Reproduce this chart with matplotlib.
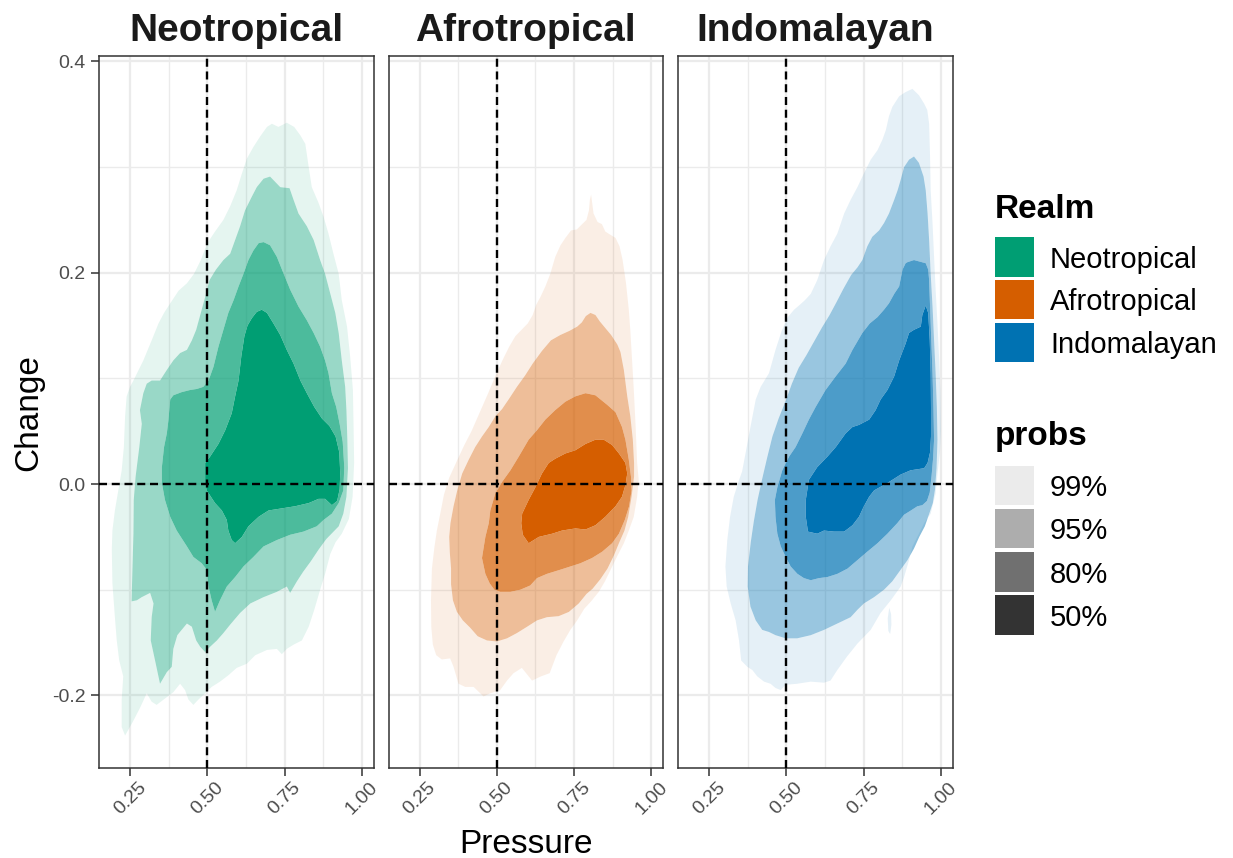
import numpy as np
import matplotlib
matplotlib.use("Agg")
import matplotlib.pyplot as plt
from matplotlib.path import Path
from matplotlib.patches import PathPatch, Rectangle
from matplotlib.ticker import FixedLocator

plt.rcParams['font.family'] = ['Liberation Sans', 'DejaVu Sans']

# ---------------------------------------------------------------------------
# Data: highest-density-region outlines (Pressure, Change) per realm
# ---------------------------------------------------------------------------
realms = ["Neotropical", "Afrotropical", "Indomalayan"]
realm_colors = ["#009E73", "#D55E00", "#0072B2"]
prob_labels = ["99%", "95%", "80%", "50%"]
prob_alphas = [0.1, 0.4, 0.7, 1.0]

x_ticks = [0.25, 0.50, 0.75, 1.00]
x_tick_labels = ["0.25", "0.50", "0.75", "1.00"]
y_ticks = [-0.2, 0.0, 0.2, 0.4]
y_tick_labels = ["-0.2", "0.0", "0.2", "0.4"]
ref_pressure = 0.5
ref_change = 0.0

neo_p99 = [(0.709,0.341),(0.730,0.338),(0.757,0.342),(0.781,0.338),(0.801,0.330),(0.817,0.322),
           (0.828,0.300),(0.838,0.281),(0.860,0.266),(0.876,0.253),(0.892,0.237),(0.908,0.218),
           (0.925,0.199),(0.935,0.174),(0.952,0.149),(0.962,0.121),(0.971,0.089),(0.973,0.057),
           (0.975,0.020),(0.970,-0.012),(0.958,-0.033),(0.935,-0.047),(0.915,-0.055),(0.898,-0.066),
           (0.881,-0.085),(0.865,-0.100),(0.846,-0.119),(0.828,-0.135),(0.806,-0.148),(0.779,-0.152),
           (0.757,-0.156),(0.741,-0.161),(0.725,-0.156),(0.693,-0.157),(0.655,-0.162),(0.628,-0.170),
           (0.595,-0.174),(0.568,-0.181),(0.541,-0.187),(0.514,-0.192),(0.493,-0.198),(0.471,-0.204),
           (0.455,-0.209),(0.439,-0.204),(0.428,-0.195),(0.412,-0.189),(0.390,-0.197),(0.363,-0.203),
           (0.336,-0.209),(0.320,-0.206),(0.304,-0.198),(0.282,-0.212),(0.259,-0.225),(0.234,-0.238),
           (0.223,-0.230),(0.223,-0.204),(0.228,-0.182),(0.215,-0.167),(0.207,-0.148),(0.201,-0.126),
           (0.193,-0.094),(0.191,-0.062),(0.193,-0.044),(0.201,-0.025),(0.212,-0.006),(0.223,0.013),
           (0.230,0.035),(0.234,0.064),(0.239,0.083),(0.250,0.092),(0.261,0.098),(0.293,0.117),
           (0.320,0.136),(0.342,0.152),(0.360,0.162),(0.380,0.171),(0.407,0.183),(0.434,0.190),
           (0.457,0.199),(0.479,0.212),(0.500,0.228),(0.525,0.239),(0.552,0.250),(0.574,0.263),
           (0.595,0.278),(0.612,0.294),(0.628,0.308),(0.649,0.319),(0.671,0.329),(0.693,0.338)]

neo_p95 = [(0.703,0.291),(0.736,0.281),(0.766,0.280),(0.779,0.269),(0.795,0.256),(0.822,0.244),
           (0.844,0.231),(0.865,0.212),(0.881,0.199),(0.898,0.180),(0.914,0.162),(0.925,0.143),
           (0.935,0.117),(0.946,0.092),(0.950,0.070),(0.953,0.042),(0.955,0.015),(0.950,-0.012),
           (0.940,-0.028),(0.925,-0.040),(0.905,-0.046),(0.885,-0.052),(0.860,-0.062),(0.835,-0.073),
           (0.810,-0.083),(0.790,-0.092),(0.768,-0.103),(0.757,-0.097),(0.725,-0.102),(0.682,-0.107),
           (0.639,-0.113),(0.606,-0.122),(0.574,-0.133),(0.552,-0.141),(0.531,-0.148),(0.509,-0.154),
           (0.493,-0.159),(0.477,-0.154),(0.464,-0.148),(0.450,-0.135),(0.434,-0.132),(0.417,-0.138),
           (0.403,-0.143),(0.390,-0.156),(0.385,-0.173),(0.369,-0.178),(0.347,-0.189),(0.331,-0.167),
           (0.317,-0.148),(0.320,-0.126),(0.326,-0.113),(0.315,-0.103),(0.288,-0.107),(0.272,-0.110),
           (0.255,-0.111),(0.258,-0.078),(0.261,-0.047),(0.262,-0.015),(0.268,0.007),(0.280,0.035),
           (0.288,0.057),(0.282,0.070),(0.293,0.086),(0.304,0.095),(0.320,0.098),(0.347,0.098),
           (0.369,0.108),(0.390,0.117),(0.412,0.124),(0.434,0.127),(0.450,0.136),(0.464,0.146),
           (0.479,0.162),(0.493,0.177),(0.507,0.193),(0.528,0.203),(0.552,0.212),(0.574,0.218),
           (0.590,0.231),(0.606,0.244),(0.622,0.259),(0.644,0.272),(0.660,0.281),(0.682,0.289)]

neo_p80 = [(0.682,0.229),(0.703,0.226),(0.725,0.215),(0.747,0.199),(0.768,0.184),(0.795,0.168),
           (0.822,0.155),(0.844,0.143),(0.865,0.130),(0.881,0.117),(0.892,0.105),(0.903,0.086),
           (0.917,0.073),(0.928,0.057),(0.938,0.040),(0.943,0.016),(0.940,-0.006),(0.925,-0.018),
           (0.903,-0.028),(0.876,-0.034),(0.854,-0.040),(0.811,-0.045),(0.768,-0.048),(0.725,-0.053),
           (0.682,-0.059),(0.649,-0.069),(0.617,-0.078),(0.590,-0.088),(0.563,-0.097),(0.541,-0.110),
           (0.525,-0.121),(0.514,-0.110),(0.504,-0.097),(0.498,-0.081),(0.482,-0.075),(0.455,-0.069),
           (0.434,-0.059),(0.401,-0.044),(0.380,-0.031),(0.363,-0.015),(0.353,0.001),(0.353,0.016),
           (0.360,0.035),(0.369,0.048),(0.374,0.060),(0.380,0.080),(0.390,0.084),(0.417,0.087),
           (0.444,0.089),(0.466,0.090),(0.487,0.092),(0.504,0.098),(0.520,0.111),(0.536,0.130),
           (0.552,0.146),(0.568,0.162),(0.585,0.174),(0.601,0.187),(0.617,0.199),(0.633,0.212),
           (0.649,0.221),(0.666,0.228)]

neo_p50 = [(0.676,0.165),(0.693,0.162),(0.714,0.152),(0.736,0.141),(0.757,0.127),(0.779,0.114),
           (0.801,0.098),(0.822,0.086),(0.846,0.073),(0.871,0.062),(0.895,0.055),(0.915,0.045),
           (0.927,0.030),(0.930,0.010),(0.928,-0.005),(0.920,-0.016),(0.903,-0.020),(0.881,-0.014),
           (0.860,-0.014),(0.828,-0.018),(0.784,-0.021),(0.741,-0.023),(0.698,-0.025),(0.666,-0.031),
           (0.633,-0.040),(0.612,-0.050),(0.590,-0.056),(0.579,-0.053),(0.568,-0.044),(0.563,-0.034),
           (0.547,-0.025),(0.525,-0.018),(0.498,-0.006),(0.493,0.001),(0.493,0.020),(0.509,0.026),
           (0.536,0.038),(0.558,0.051),(0.579,0.067),(0.590,0.083),(0.601,0.098),(0.610,0.121),
           (0.620,0.140),(0.630,0.150),(0.644,0.157),(0.660,0.163)]

afro_p99 = [(0.805,0.274),(0.813,0.256),(0.826,0.248),(0.840,0.246),(0.851,0.239),(0.867,0.236),
            (0.884,0.233),(0.897,0.225),(0.907,0.212),(0.918,0.190),(0.927,0.165),(0.932,0.145),
            (0.937,0.120),(0.943,0.090),(0.949,0.055),(0.954,0.020),(0.959,0.004),(0.954,-0.012),
            (0.943,-0.031),(0.927,-0.044),(0.911,-0.056),(0.890,-0.068),(0.870,-0.080),(0.850,-0.092),
            (0.830,-0.102),(0.805,-0.111),(0.783,-0.118),(0.760,-0.129),(0.738,-0.138),(0.716,-0.149),
            (0.693,-0.162),(0.671,-0.179),(0.643,-0.182),(0.614,-0.186),(0.581,-0.174),(0.554,-0.179),
            (0.533,-0.186),(0.511,-0.195),(0.479,-0.198),(0.457,-0.201),(0.425,-0.192),(0.398,-0.192),
            (0.376,-0.189),(0.360,-0.173),(0.349,-0.165),(0.322,-0.166),(0.304,-0.162),(0.293,-0.152),
            (0.288,-0.135),(0.287,-0.110),(0.290,-0.080),(0.298,-0.060),(0.306,-0.044),(0.317,-0.028),
            (0.329,-0.010),(0.346,0.006),(0.371,0.022),(0.395,0.037),(0.418,0.050),(0.445,0.068),
            (0.472,0.086),(0.495,0.102),(0.518,0.117),(0.540,0.130),(0.560,0.140),(0.580,0.146),
            (0.600,0.152),(0.616,0.160),(0.628,0.170),(0.641,0.177),(0.657,0.187),(0.673,0.199),
            (0.689,0.215),(0.706,0.226),(0.722,0.233),(0.740,0.240),(0.759,0.241),(0.776,0.246),
            (0.790,0.250),(0.798,0.259),(0.801,0.269)]

afro_p95 = [(0.803,0.162),(0.819,0.160),(0.833,0.154),(0.850,0.148),(0.870,0.141),(0.890,0.132),
            (0.900,0.125),(0.911,0.108),(0.922,0.083),(0.932,0.064),(0.940,0.042),(0.944,0.020),
            (0.944,0.007),(0.936,-0.012),(0.925,-0.031),(0.913,-0.044),(0.895,-0.056),(0.878,-0.068),
            (0.858,-0.080),(0.835,-0.090),(0.810,-0.099),(0.790,-0.104),(0.765,-0.113),(0.733,-0.121),
            (0.700,-0.125),(0.662,-0.126),(0.630,-0.129),(0.598,-0.135),(0.565,-0.141),(0.533,-0.146),
            (0.500,-0.149),(0.468,-0.148),(0.438,-0.144),(0.414,-0.136),(0.390,-0.129),(0.371,-0.121),
            (0.358,-0.110),(0.352,-0.095),(0.352,-0.080),(0.348,-0.065),(0.346,-0.050),(0.350,-0.037),
            (0.360,-0.021),(0.372,-0.006),(0.388,0.010),(0.409,0.023),(0.430,0.035),(0.452,0.045),
            (0.474,0.054),(0.495,0.064),(0.517,0.071),(0.538,0.080),(0.565,0.092),(0.592,0.103),
            (0.616,0.114),(0.646,0.126),(0.675,0.136),(0.705,0.141),(0.735,0.145),(0.760,0.149),
            (0.775,0.153),(0.788,0.159)]

afro_p80 = [(0.787,0.086),(0.819,0.084),(0.857,0.075),(0.884,0.068),(0.905,0.054),(0.916,0.042),
            (0.927,0.023),(0.934,0.007),(0.936,-0.006),(0.928,-0.021),(0.914,-0.034),(0.895,-0.047),
            (0.873,-0.056),(0.841,-0.064),(0.808,-0.070),(0.770,-0.075),(0.738,-0.078),(0.706,-0.081),
            (0.662,-0.085),(0.630,-0.089),(0.608,-0.096),(0.576,-0.100),(0.544,-0.102),(0.511,-0.102),
            (0.492,-0.100),(0.477,-0.094),(0.463,-0.085),(0.452,-0.070),(0.463,-0.050),(0.474,-0.037),
            (0.479,-0.025),(0.495,-0.009),(0.517,0.002),(0.544,0.013),(0.571,0.026),(0.603,0.042),
            (0.630,0.051),(0.657,0.061),(0.689,0.070),(0.722,0.078),(0.754,0.083)]

afro_p50 = [(0.819,0.042),(0.846,0.042),(0.873,0.037),(0.895,0.029),(0.916,0.020),(0.922,0.010),
            (0.916,-0.001),(0.905,-0.012),(0.884,-0.021),(0.851,-0.031),(0.819,-0.039),(0.787,-0.043),
            (0.754,-0.042),(0.711,-0.044),(0.679,-0.047),(0.636,-0.050),(0.603,-0.056),(0.584,-0.048),
            (0.579,-0.037),(0.582,-0.028),(0.603,-0.015),(0.625,-0.003),(0.646,0.010),(0.668,0.020),
            (0.689,0.024),(0.722,0.029),(0.754,0.032),(0.787,0.038)]

indo_p99 = [(0.908,0.374),(0.929,0.368),(0.946,0.360),(0.956,0.354),(0.962,0.341),(0.965,0.310),
            (0.967,0.278),(0.973,0.247),(0.978,0.215),(0.983,0.184),(0.989,0.152),(0.994,0.121),
            (0.998,0.089),(1.000,0.050),(0.997,0.030),(0.989,0.010),(0.983,-0.009),(0.967,-0.028),
            (0.946,-0.037),(0.924,-0.050),(0.908,-0.059),(0.897,-0.072),(0.881,-0.088),(0.870,-0.097),
            (0.838,-0.110),(0.805,-0.122),(0.773,-0.138),(0.730,-0.151),(0.697,-0.163),(0.665,-0.176),
            (0.643,-0.186),(0.622,-0.188),(0.579,-0.187),(0.535,-0.189),(0.498,-0.190),(0.482,-0.195),
            (0.465,-0.193),(0.449,-0.189),(0.428,-0.187),(0.406,-0.182),(0.390,-0.176),(0.374,-0.173),
            (0.354,-0.167),(0.347,-0.148),(0.336,-0.129),(0.320,-0.113),(0.307,-0.097),(0.303,-0.078),
            (0.309,-0.053),(0.318,-0.031),(0.330,-0.012),(0.345,0.002),(0.357,0.012),(0.368,0.029),
            (0.384,0.054),(0.401,0.080),(0.417,0.092),(0.444,0.105),(0.465,0.127),(0.485,0.145),
            (0.505,0.158),(0.525,0.165),(0.545,0.170),(0.560,0.174),(0.579,0.180),(0.600,0.193),
            (0.622,0.212),(0.643,0.225),(0.665,0.237),(0.687,0.256),(0.708,0.269),(0.730,0.281),
            (0.751,0.294),(0.773,0.307),(0.795,0.316),(0.811,0.326),(0.822,0.335),(0.832,0.348),
            (0.843,0.357),(0.865,0.367),(0.886,0.371)]

# detached 99% fragment below the main Indomalayan body
indo_p99_islet = [(0.833,-0.117),(0.839,-0.123),(0.840,-0.133),(0.836,-0.142),
                  (0.830,-0.139),(0.828,-0.127)]

indo_p95 = [(0.913,0.310),(0.929,0.304),(0.944,0.291),(0.951,0.278),(0.957,0.256),(0.962,0.231),
            (0.967,0.199),(0.973,0.168),(0.978,0.136),(0.983,0.105),(0.987,0.073),(0.989,0.042),
            (0.986,0.015),(0.981,-0.005),(0.974,-0.018),(0.960,-0.030),(0.948,-0.040),(0.930,-0.050),
            (0.913,-0.061),(0.892,-0.072),(0.870,-0.081),(0.843,-0.092),(0.816,-0.100),(0.784,-0.107),
            (0.751,-0.113),(0.730,-0.119),(0.708,-0.126),(0.665,-0.132),(0.622,-0.138),(0.579,-0.143),
            (0.535,-0.146),(0.498,-0.146),(0.465,-0.143),(0.444,-0.140),(0.422,-0.138),(0.401,-0.129),
            (0.384,-0.116),(0.375,-0.097),(0.376,-0.078),(0.385,-0.055),(0.395,-0.035),(0.407,-0.015),
            (0.422,0.005),(0.438,0.025),(0.455,0.045),(0.475,0.062),(0.497,0.078),(0.518,0.095),
            (0.540,0.110),(0.565,0.122),(0.590,0.135),(0.615,0.148),(0.640,0.160),(0.662,0.172),
            (0.685,0.185),(0.710,0.198),(0.730,0.205),(0.746,0.212),(0.762,0.225),(0.778,0.234),
            (0.800,0.240),(0.816,0.247),(0.832,0.256),(0.849,0.269),(0.860,0.278),(0.870,0.288),
            (0.881,0.300),(0.897,0.307)]

indo_p80 = [(0.892,0.210),(0.913,0.212),(0.951,0.209),(0.959,0.203),(0.962,0.193),(0.965,0.168),
            (0.969,0.136),(0.973,0.105),(0.976,0.073),(0.978,0.042),(0.975,0.025),(0.970,0.008),
            (0.964,-0.008),(0.955,-0.016),(0.940,-0.020),(0.924,-0.021),(0.903,-0.025),(0.881,-0.029),
            (0.859,-0.037),(0.827,-0.047),(0.795,-0.056),(0.762,-0.064),(0.730,-0.072),(0.698,-0.080),
            (0.665,-0.085),(0.633,-0.088),(0.606,-0.089),(0.579,-0.091),(0.557,-0.089),(0.536,-0.085),
            (0.514,-0.078),(0.498,-0.069),(0.482,-0.059),(0.471,-0.047),(0.465,-0.031),(0.463,-0.015),
            (0.471,-0.003),(0.487,0.013),(0.509,0.026),(0.530,0.035),(0.552,0.048),(0.573,0.061),
            (0.595,0.073),(0.627,0.089),(0.660,0.102),(0.692,0.114),(0.714,0.127),(0.746,0.143),
            (0.770,0.152),(0.795,0.158),(0.816,0.165),(0.832,0.171),(0.849,0.180),(0.865,0.187),
            (0.876,0.203),(0.886,0.209)]

indo_p50 = [(0.951,0.169),(0.959,0.162),(0.964,0.136),(0.967,0.105),(0.968,0.073),(0.968,0.045),
            (0.965,0.030),(0.957,0.020),(0.946,0.015),(0.902,0.013),(0.870,0.009),(0.827,0.001),
            (0.784,-0.006),(0.768,-0.012),(0.751,-0.021),(0.735,-0.031),(0.714,-0.039),(0.687,-0.045),
            (0.654,-0.045),(0.622,-0.044),(0.600,-0.047),(0.570,-0.045),(0.563,-0.031),(0.563,-0.015),
            (0.573,0.004),(0.600,0.016),(0.633,0.026),(0.660,0.035),(0.692,0.048),(0.714,0.054),
            (0.735,0.056),(0.768,0.061),(0.789,0.070),(0.805,0.080),(0.827,0.089),(0.849,0.102),
            (0.865,0.117),(0.886,0.133),(0.897,0.143),(0.913,0.146),(0.935,0.149),(0.940,0.160)]

regions = {
    "Neotropical": [neo_p99, neo_p95, neo_p80, neo_p50],
    "Afrotropical": [afro_p99, afro_p95, afro_p80, afro_p50],
    "Indomalayan": [indo_p99, indo_p95, indo_p80, indo_p50],
}
# extra disconnected pieces: (realm, level index, outline)
fragments = [("Indomalayan", 0, indo_p99_islet)]


# ---------------------------------------------------------------------------
# Helpers: each probability band is the region inside one HDR outline and
# outside the next (inner) one, so the alpha levels never stack.
# ---------------------------------------------------------------------------
def oriented(points, ccw=True):
    arr = np.asarray(points, dtype=float)
    x, y = arr[:, 0], arr[:, 1]
    area = 0.5 * np.sum(x * np.roll(y, -1) - np.roll(x, -1) * y)
    if (area > 0) != ccw:
        arr = arr[::-1]
    return arr


def band_path(outer, inner=None):
    rings = [oriented(outer, True)]
    if inner is not None:
        rings.append(oriented(inner, False))
    verts, codes = [], []
    for r in rings:
        verts.extend(r.tolist())
        verts.append(r[0].tolist())
        codes.extend([Path.MOVETO] + [Path.LINETO] * (len(r) - 1) + [Path.CLOSEPOLY])
    return Path(verts, codes)


# ---------------------------------------------------------------------------
# Figure
# ---------------------------------------------------------------------------
W, H = 1233, 858
fig = plt.figure(figsize=(W / 100, H / 100), dpi=100)
fig.patch.set_facecolor("white")

panel_left_px = [99, 388.5, 678]
panel_w_px = 274.5
panel_top_px, panel_bot_px = 55.7, 768.3

xlim = (0.1496, 1.0376)
ylim = (-0.269, 0.4054)

text_dark = "#1A1A1A"
tick_grey = "#4D4D4D"
frame_grey = "#333333"
grid_grey = "#EBEBEB"
dash_style = (0, (3.4, 2.0))

for i, (realm, color) in enumerate(zip(realms, realm_colors)):
    ax = fig.add_axes([panel_left_px[i] / W, 1 - panel_bot_px / H,
                       panel_w_px / W, (panel_bot_px - panel_top_px) / H])
    ax.set_xlim(*xlim)
    ax.set_ylim(*ylim)
    ax.set_facecolor("white")

    # grid (major + minor)
    ax.xaxis.set_major_locator(FixedLocator(x_ticks))
    ax.yaxis.set_major_locator(FixedLocator(y_ticks))
    ax.xaxis.set_minor_locator(FixedLocator([0.375, 0.625, 0.875]))
    ax.yaxis.set_minor_locator(FixedLocator([-0.1, 0.1, 0.3]))
    ax.grid(which="major", color=grid_grey, lw=1.6, zorder=0)
    ax.grid(which="minor", color=grid_grey, lw=1.0, zorder=0)
    ax.tick_params(which="minor", length=0)
    ax.set_axisbelow(True)

    # density bands
    levels = regions[realm]
    for k, outline in enumerate(levels):
        inner = levels[k + 1] if k + 1 < len(levels) else None
        patch = PathPatch(band_path(outline, inner), facecolor=color,
                          alpha=prob_alphas[k], edgecolor="none", zorder=1 + k * 0.01)
        ax.add_patch(patch)
    for f_realm, k, outline in fragments:
        if f_realm == realm:
            ax.add_patch(PathPatch(band_path(outline), facecolor=color,
                                   alpha=prob_alphas[k], edgecolor="none", zorder=1))

    # reference lines
    ax.axvline(ref_pressure, color="black", lw=1.7, ls=dash_style, zorder=3)
    ax.axhline(ref_change, color="black", lw=1.7, ls=dash_style, zorder=3)

    # frame & ticks
    for sp in ax.spines.values():
        sp.set_color(frame_grey)
        sp.set_linewidth(1.1)
    ax.tick_params(which="major", direction="out", length=6, width=1.1,
                   color=frame_grey, labelcolor=tick_grey, labelsize=14)
    ax.tick_params(axis="x", pad=1.5)
    ax.tick_params(axis="y", pad=3.5)
    ax.set_xticklabels(x_tick_labels, rotation=45, ha="center", va="top")
    if i == 0:
        ax.set_yticklabels(y_tick_labels)
    else:
        ax.tick_params(axis="y", left=False, labelleft=False)

    ax.set_title(realm, fontsize=28, fontweight="bold", color=text_dark, pad=10.5)

# axis titles
fig.text(28.5 / W, 1 - 413 / H, "Change", rotation=90, fontsize=24,
         ha="center", va="center", color="black")
fig.text(526 / W, 1 - 853 / H, "Pressure", fontsize=24,
         ha="center", va="baseline", color="black")

# ---------------------------------------------------------------------------
# Legends
# ---------------------------------------------------------------------------
key_x_px, key_size_px, label_x_px = 995, 39.3, 1050
legend_text_pt = 21
cap_half_px = 0.5 * 0.729 * legend_text_pt * 100 / 72


def add_key(top_px, face):
    fig.add_artist(Rectangle((key_x_px / W, 1 - (top_px + key_size_px) / H),
                             key_size_px / W, key_size_px / H,
                             transform=fig.transFigure, facecolor=face,
                             edgecolor="none"))


def add_label(top_px, text):
    centre = top_px + key_size_px / 2
    fig.text(label_x_px / W, 1 - (centre + cap_half_px) / H, text,
             fontsize=legend_text_pt, ha="left", va="baseline", color="black")


fig.text(key_x_px / W, 1 - 218 / H, "Realm", fontsize=24, fontweight="bold",
         ha="left", va="baseline", color="black")
realm_key_tops = [237.3, 280.0, 322.7]
for top, name, color in zip(realm_key_tops, realms, realm_colors):
    add_key(top, color)
    add_label(top, name)

fig.text(key_x_px / W, 1 - 445 / H, "probs", fontsize=24, fontweight="bold",
         ha="left", va="baseline", color="black")
prob_key_tops = [466.0, 509.0, 552.3, 595.3]
base_grey = np.array([0x33, 0x33, 0x33]) / 255.0
for top, label, alpha in zip(prob_key_tops, prob_labels, prob_alphas):
    face = tuple(1 - alpha * (1 - base_grey))
    add_key(top, face)
    add_label(top, label)

fig.savefig("out.png", dpi=100, facecolor="white")
